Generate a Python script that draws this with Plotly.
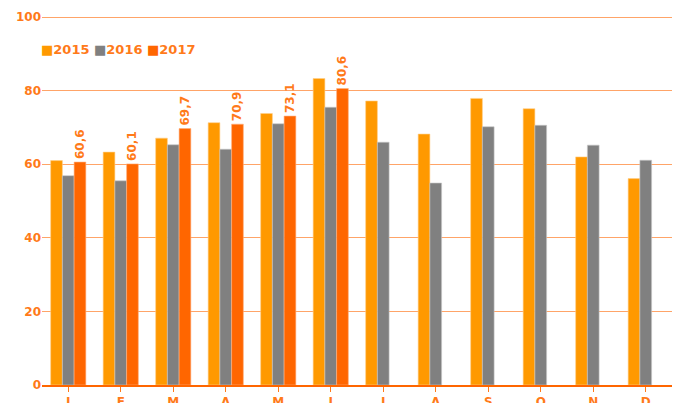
import plotly.graph_objects as go

months = ["J", "F", "M", "A", "M", "J", "J", "A", "S", "O", "N", "D"]
x_idx = list(range(12))
v2015 = [61.0, 63.3, 67.1, 71.3, 73.8, 83.3, 77.2, 68.2, 77.9, 75.1, 62.0, 56.1]
v2016 = [56.9, 55.5, 65.3, 64.1, 71.0, 75.5, 66.0, 54.9, 70.2, 70.6, 65.2, 61.1]
v2017 = [60.6, 60.1, 69.7, 70.9, 73.1, 80.6]
labels2017 = ["60,6", "60,1", "69,7", "70,9", "73,1", "80,6"]
series_names = ["2015", "2016", "2017"]
series_colors = ["#FF9900", "#808080", "#FF6600"]

ORANGE_TXT = "#FF7A1A"
FAM = "DejaVu Sans"
bold_font = dict(family=FAM, size=12, color=ORANGE_TXT, weight="bold")

fig = go.Figure()
fig.add_bar(x=x_idx, y=v2015, name=series_names[0],
            marker=dict(color=series_colors[0], line=dict(color="#FFD08A", width=0.6)))
fig.add_bar(x=x_idx, y=v2016, name=series_names[1],
            marker=dict(color=series_colors[1], line=dict(color="#C8C8C8", width=0.6)))
fig.add_bar(x=x_idx[:6], y=v2017, name=series_names[2],
            marker=dict(color=series_colors[2], line=dict(color="#FFB080", width=0.6)),
            text=labels2017, textposition="outside", textangle=-90, constraintext="none",
            textfont=dict(family=FAM, size=12, color=ORANGE_TXT, weight="bold"), cliponaxis=False)

# legend drawn as a single line of text with coloured squares
legend_txt = "".join(
    f"<span style='color:{c}'>■</span>{n} " for n, c in zip(series_names, series_colors)
)
fig.add_annotation(x=-0.004, y=0.908, xref="paper", yref="paper", xanchor="left", yanchor="middle",
                   text=legend_txt, showarrow=False,
                   font=dict(family=FAM, size=13, color=ORANGE_TXT, weight="bold"))

fig.update_layout(
    width=673, height=403,
    margin=dict(l=42, r=1, t=16, b=18, autoexpand=False),
    paper_bgcolor="white", plot_bgcolor="white",
    barmode="group", bargap=0.33, bargroupgap=0,
    showlegend=False,
    font=dict(family=FAM, color=ORANGE_TXT),
)
fig.update_xaxes(
    tickmode="array", tickvals=x_idx, ticktext=months, automargin=False,
    range=[-0.5, 11.5], tickson="boundaries", ticks="outside", ticklen=5,
    tickcolor="#FF7A1A", showline=True, linecolor="#FF6600", linewidth=1.5,
    showgrid=False, tickfont=bold_font,
)
fig.update_yaxes(
    range=[0, 100.3], tickvals=[0, 20, 40, 60, 80, 100], showgrid=True, gridcolor="#FFA468", gridwidth=1,
    zeroline=False, showline=False, ticks="", automargin=False,
    tickfont=bold_font,
)
fig.write_html("out.html", config={"displayModeBar": False},
               post_script="document.body.style.margin='0';document.body.style.overflow='hidden';")
